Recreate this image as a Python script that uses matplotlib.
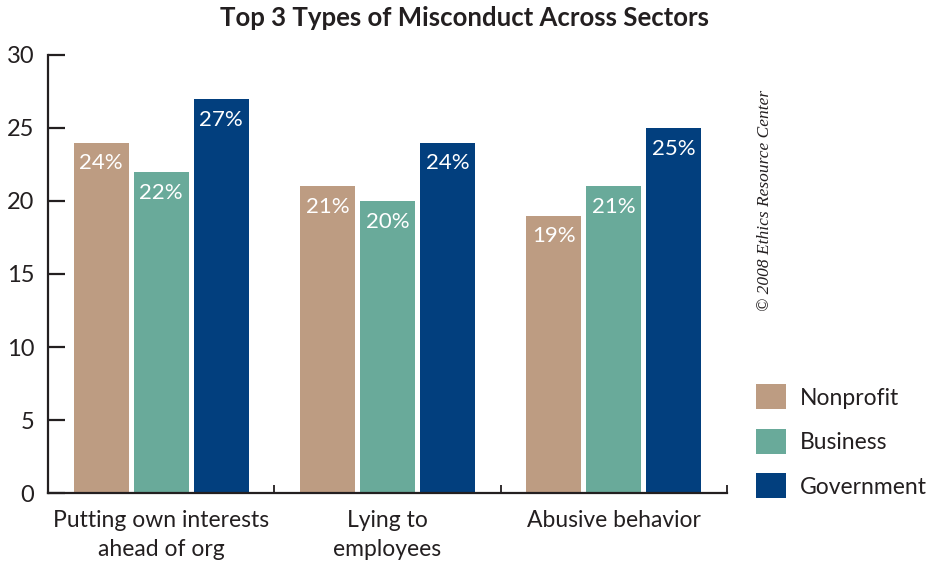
import numpy as np
import matplotlib.pyplot as plt
from matplotlib.patches import Patch

categorias = ["Putting own interests\nahead of org", "Lying to\nemployees", "Abusive behavior"]
setores = ["Nonprofit", "Business", "Government"]
nonprofit = [24, 21, 19]
business = [22, 20, 21]
government = [27, 24, 25]
cores = ["#BD9C82", "#69AA9A", "#023F7E"]

plt.rcParams['font.family'] = ['Lato', 'DejaVu Sans']
escuro = "#231F20"

fig = plt.figure(figsize=(9.48, 5.65), dpi=100)
ax = fig.add_axes([0.0506, 0.1274, 0.7164, 0.7753])

x = np.arange(len(categorias))
largura = 0.243
passo = 0.265
for i, (vals, cor) in enumerate(zip([nonprofit, business, government], cores)):
    barras = ax.bar(x + (i - 1) * passo, vals, largura, color=cor)
    for b, v in zip(barras, vals):
        ax.annotate(f"{v}%", (b.get_x() + b.get_width() / 2, v),
                    xytext=(0, -15), textcoords="offset points",
                    ha="center", va="center", color="white", fontsize=16)

ax.set_xlim(-0.5, 2.5)
ax.set_ylim(0, 30)
ax.set_yticks(range(0, 31, 5))
ax.set_xticks(x)
ax.set_xticklabels(categorias, fontsize=16.5, color=escuro, linespacing=1.5)
ax.set_xticks([0.5, 1.5, 2.5], minor=True)

ax.spines['top'].set_visible(False)
ax.spines['right'].set_visible(False)
for s in ['left', 'bottom']:
    ax.spines[s].set_linewidth(1.6)
    ax.spines[s].set_color(escuro)

ax.tick_params(axis='y', direction='in', length=12, width=1.6, color=escuro,
               labelsize=17, labelcolor=escuro, pad=10)
ax.tick_params(axis='x', which='major', length=0, pad=12)
ax.tick_params(axis='x', which='minor', direction='in', length=6, width=1.3, color=escuro)

fig.suptitle("Top 3 Types of Misconduct Across Sectors", x=0.49, y=0.99,
             fontsize=18.5, fontweight='bold', color=escuro)

fig.text(0.807, 0.645, "© 2008 Ethics Resource Center", rotation=90,
         ha="center", va="center", fontsize=12.5, style="italic",
         family="Liberation Serif", color=escuro)

handles = [Patch(facecolor=c) for c in cores]
fig.legend(handles, setores, loc="upper left", bbox_to_anchor=(0.776, 0.356),
           frameon=False, fontsize=16.5, handlelength=1.3, handleheight=1.3,
           labelspacing=0.85, handletextpad=0.6, labelcolor=escuro)

fig.savefig("out.png", dpi=100)
